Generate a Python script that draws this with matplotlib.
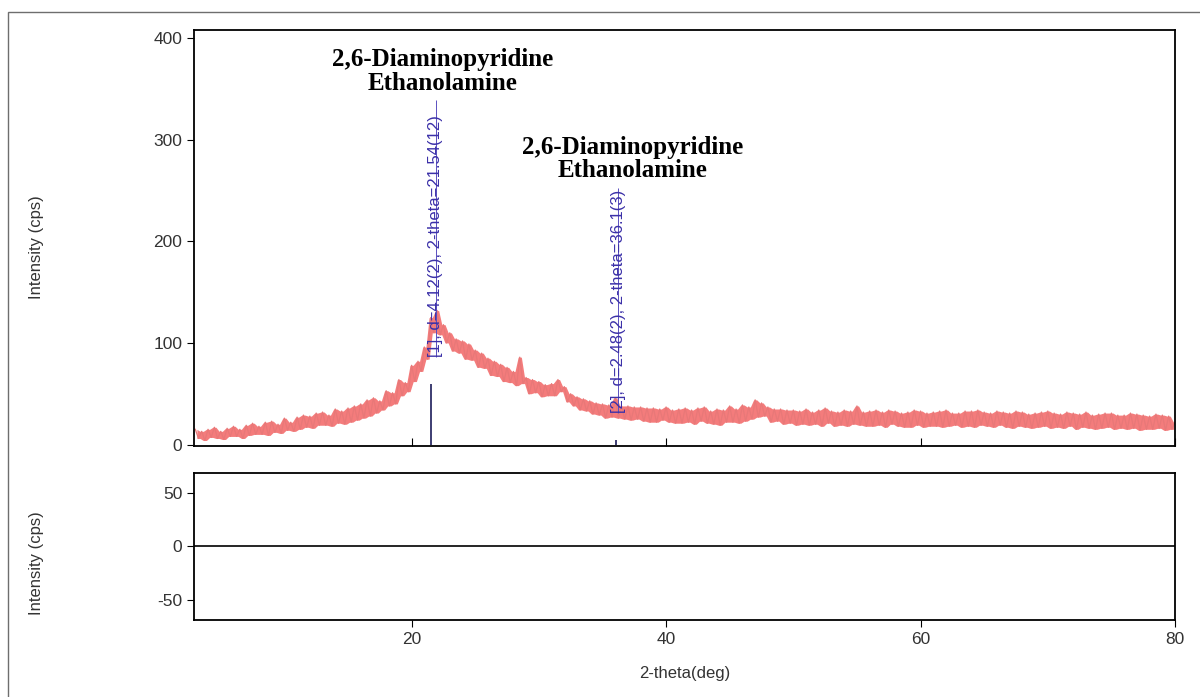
import matplotlib
matplotlib.use("Agg")
import matplotlib.pyplot as plt
from matplotlib.patches import Rectangle
import numpy as np

plt.rcParams['font.family'] = ['Liberation Sans', 'DejaVu Sans']
plt.rcParams['axes.unicode_minus'] = False

# measured scan, 2-theta from 3 to 80 deg in 0.25 deg steps
two_theta_start = 3.0
two_theta_step = 0.25
intensity = [
    15, 6, 13, 4,   15, 7, 17, 6,   13, 5, 16, 8,   18, 8, 15, 6,
    19, 9, 21, 10,   18, 10, 22, 9,   23, 12, 20, 11,   26, 14, 22, 13,
    27, 15, 29, 17,   28, 16, 31, 19,   32, 19, 29, 18,   35, 21, 33, 20,
    36, 22, 38, 24,   40, 26, 44, 28,   46, 31, 43, 34,   53, 38, 51, 40,
    64, 48, 61, 52,   78, 62, 82, 72,   96, 84, 125, 110,   132, 108, 118, 100,
    110, 92, 104, 90,   102, 84, 99, 83,   93, 76, 90, 75,   85, 68, 82, 67,
    79, 62, 76, 61,   72, 58, 86, 60,   66, 50, 64, 51,   62, 47, 59, 48,
    60, 48, 64, 52,   57, 42, 50, 38,   47, 34, 45, 33,   43, 30, 41, 29,
    40, 26, 39, 27,   46, 26, 38, 25,   38, 24, 37, 25,   37, 23, 36, 22,
    36, 22, 35, 24,   37, 22, 34, 21,   35, 21, 36, 22,   34, 20, 36, 23,
    37, 21, 33, 20,   35, 19, 34, 22,   38, 22, 35, 21,   39, 23, 37, 25,
    44, 27, 41, 28,   37, 22, 35, 23,   35, 20, 34, 21,   34, 19, 33, 20,
    35, 19, 32, 20,   34, 18, 36, 21,   33, 18, 32, 19,   34, 18, 33, 20,
    38, 19, 32, 18,   33, 18, 34, 19,   32, 17, 34, 20,   33, 18, 31, 17,
    32, 17, 34, 19,   33, 17, 31, 18,   32, 18, 33, 17,   34, 18, 31, 19,
    31, 17, 33, 18,   33, 17, 34, 19,   32, 18, 31, 17,   33, 19, 32, 17,
    31, 16, 33, 18,   32, 17, 30, 16,   31, 17, 32, 18,   33, 16, 31, 17,
    30, 16, 32, 18,   31, 15, 30, 17,   32, 16, 29, 15,   30, 16, 31, 17,
    31, 15, 29, 16,   29, 15, 31, 16,   30, 14, 29, 15,   28, 15, 30, 16,
    29, 14, 28, 15,   22,
]
two_theta = two_theta_start + two_theta_step * np.arange(len(intensity))

# identified reflections
peak_pos = [21.54, 36.1]
peak_height = [60, 4]
peak_labels = ["[1], d=4.12(2), 2-theta=21.54(12)",
               "[2], d=2.48(2), 2-theta=36.1(3)"]
label_x = [21.9, 36.25]
label_base = [86, 31]
label_top = [339, 252]

phase_name = "2,6-Diaminopyridine\nEthanolamine"
phase_xy = [(22.4, 367), (37.4, 281)]

fig = plt.figure(figsize=(12, 6.97), dpi=100)
ax = fig.add_axes([0.1617, 0.360, 0.8175, 0.597])
ax_res = fig.add_axes([0.1617, 0.1105, 0.8175, 0.2109])

# outer frame
fig.patches.append(Rectangle((8 / 1200, -0.2), 1.2, 1.2 - 12 / 697,
                             transform=fig.transFigure, fill=False,
                             edgecolor="#6e6e6e", lw=1.0))

# noise band: range between neighbouring counts, then the raw trace on top
y = np.asarray(intensity, dtype=float)
x_mid = 0.5 * (two_theta[:-1] + two_theta[1:])
band_lo = np.minimum(y[:-1], y[1:])
band_hi = np.maximum(y[:-1], y[1:])
ax.fill_between(x_mid, band_lo, band_hi, color="#f47c7c", lw=0)
ax.plot(two_theta, y, color="#e87878", lw=0.9)
ax.vlines(peak_pos, 0, peak_height, color="#1c1c5a", lw=1.2)

for x, base, top, txt in zip(label_x, label_base, label_top, peak_labels):
    ax.vlines(x, base, top, color="#5a4fc0", lw=0.7)
    ax.text(x, base, txt, rotation=90, ha="center", va="bottom",
            color="#3b30a8", fontsize=12)

for (x, yy) in phase_xy:
    ax.text(x, yy, phase_name, ha="center", va="center", fontsize=18,
            family="Liberation Serif", fontweight="bold", linespacing=1.05)

ax.set_xlim(2.9, 80)
ax.set_ylim(-1.5, 408)
ax.set_yticks([0, 100, 200, 300, 400])
ax.set_xticks([20, 40, 60, 80])
ax.tick_params(axis="x", direction="in", length=6, labelbottom=False)
ax.tick_params(axis="y", direction="out", length=5, labelsize=12.5,
               labelcolor="#333333")
ax.set_ylabel("Intensity (cps)", fontsize=12, color="#333333")
ax.yaxis.set_label_coords(-0.153, 0.478)

ax_res.axhline(0, color="black", lw=1.2)
ax_res.set_xlim(2.9, 80)
ax_res.set_ylim(-68.5, 68.5)
ax_res.set_yticks([-50, 0, 50])
ax_res.set_xticks([20, 40, 60, 80])
ax_res.tick_params(axis="both", direction="out", length=5, labelsize=12.5,
                   labelcolor="#333333")
ax_res.set_ylabel("Intensity (cps)", fontsize=12, color="#333333")
ax_res.yaxis.set_label_coords(-0.153, 0.39)
ax_res.set_xlabel("2-theta(deg)", fontsize=12, color="#333333", labelpad=14)

for a in (ax, ax_res):
    for s in a.spines.values():
        s.set_linewidth(1.3)

fig.savefig("out.png", dpi=100)
